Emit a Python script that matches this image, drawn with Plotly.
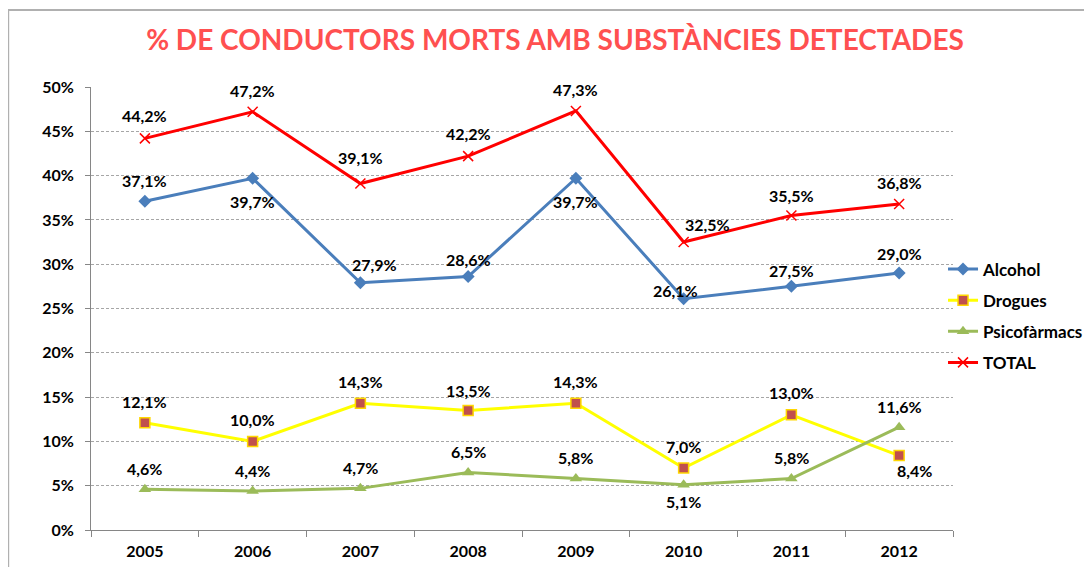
import plotly.graph_objects as go

years = [2005, 2006, 2007, 2008, 2009, 2010, 2011, 2012]
alcohol = [37.1, 39.7, 27.9, 28.6, 39.7, 26.1, 27.5, 29.0]
drogues = [12.1, 10.0, 14.3, 13.5, 14.3, 7.0, 13.0, 8.4]
psicofarmacs = [4.6, 4.4, 4.7, 6.5, 5.8, 5.1, 5.8, 11.6]
total = [44.2, 47.2, 39.1, 42.2, 47.3, 32.5, 35.5, 36.8]

# label offsets in px (dx, dy), dy positive = up
off_alcohol = [(0, 21), (0, -23), (14, 18), (0, 17), (0, -23), (-8, 8), (0, 16), (0, 20)]
off_drogues = [(0, 21), (0, 22), (0, 22), (0, 20), (0, 22), (0, 21), (0, 22), (15, -15)]
off_psico = [(0, 21), (0, 21), (0, 21), (0, 21), (0, 21), (0, -17), (0, 21), (0, 21)]
off_total = [(0, 23), (0, 21), (0, 26), (0, 23), (0, 21), (24, 18), (0, 20), (0, 21)]

font = "Lato, 'Open Sans', sans-serif"

# plot area in figure px
L, T, W, H = 83, 79, 864, 443

fig = go.Figure()
fig.add_scatter(x=years, y=alcohol, name="Alcohol", mode="lines+markers", legendgroup="a",
                line=dict(color="#4A7EBB", width=3),
                marker=dict(symbol="diamond", size=10, color="#4A7EBB"))
fig.add_scatter(x=years, y=drogues, name="Drogues", mode="lines+markers", legendgroup="b",
                line=dict(color="#FFFF00", width=3),
                marker=dict(symbol="square", size=10, color="#C0504D",
                            line=dict(color="#FFD700", width=1.5)))
fig.add_scatter(x=years, y=psicofarmacs, name="Psicofàrmacs", mode="lines+markers", legendgroup="c",
                line=dict(color="#9BBB59", width=3),
                marker=dict(symbol="triangle-up", size=11, color="#9BBB59"))
fig.add_scatter(x=years, y=total, name="TOTAL", mode="lines+markers", legendgroup="d",
                line=dict(color="#FF0000", width=3),
                marker=dict(symbol="x-thin", size=10, color="#FF0000",
                            line=dict(color="#FF0000", width=1.5)))

for vals, offs in [(total, off_total), (alcohol, off_alcohol),
                   (drogues, off_drogues), (psicofarmacs, off_psico)]:
    for yr, v, (dx, dy) in zip(years, vals, offs):
        fig.add_annotation(x=yr, y=v, text="<b>" + f"{v:.1f}".replace(".", ",") + "%</b>",
                           showarrow=False, xshift=dx, yshift=dy,
                           font=dict(family=font, size=16, color="black"))

# outer chart border
fig.add_shape(type="rect", xref="paper", yref="paper",
              x0=(0 - L) / W, x1=(1120 - L) / W,
              y0=(T + H - 600) / H, y1=(T + H - 2) / H,
              line=dict(color="#B0B0B0", width=2), layer="below")

fig.update_layout(
    title=dict(text="<b>% DE CONDUCTORS MORTS AMB SUBSTÀNCIES DETECTADES</b>",
               x=547 / 1092, xanchor="center", y=1 - 32 / 567, yanchor="middle",
               font=dict(family=font, size=28, color="#FF5050")),
    width=1092, height=567,
    margin=dict(l=L, r=1092 - L - W, t=T, b=567 - T - H),
    plot_bgcolor="white", paper_bgcolor="white",
    showlegend=True,
    legend=dict(x=(945 - 8 - L) / W, xanchor="left", y=0.483, yanchor="middle",
                font=dict(family=font, size=17, color="black", weight="bold"),
                bgcolor="rgba(0,0,0,0)", itemwidth=30, tracegroupgap=6),
    font=dict(family=font),
)
fig.update_xaxes(range=[2004.5, 2012.5], tickmode="array", tickvals=years,
                 ticktext=["<b>%d</b>" % y for y in years],
                 showline=True, linecolor="#868686", linewidth=1,
                 ticks="", showgrid=False, ticklabelstandoff=7,
                 minor=dict(ticks="outside", tick0=2004.5, dtick=1, ticklen=6,
                            tickcolor="#868686", showgrid=False),
                 tickfont=dict(family=font, size=16, color="black"))
fig.update_yaxes(range=[0, 50], dtick=5, ticksuffix="%", showline=True,
                 linecolor="#868686", linewidth=1, ticks="outside", ticklen=5,
                 tickcolor="#868686", showgrid=True, gridcolor="#A6A6A6",
                 griddash="3px,2px", gridwidth=1, zeroline=False, ticklabelstandoff=8,
                 tickfont=dict(family=font, size=16, color="black", weight="bold"))

fig.write_html("out.html")
